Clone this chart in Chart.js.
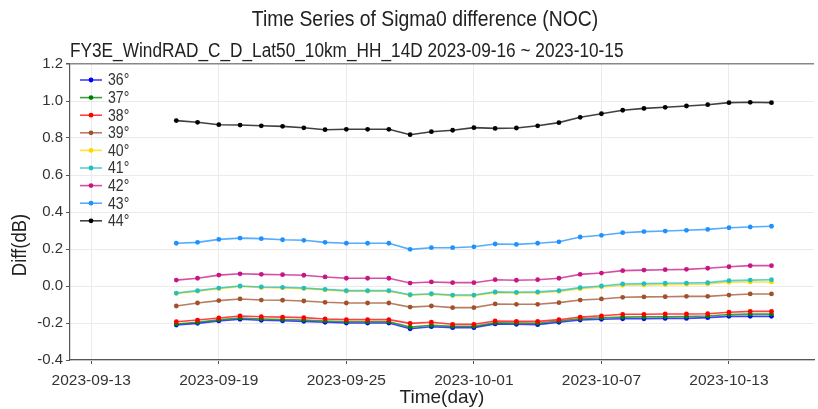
<!DOCTYPE html>
<html>
<head>
<meta charset="utf-8">
<script src="https://cdn.jsdelivr.net/npm/chart.js@4/dist/chart.umd.min.js"></script>
<style>
  html, body { margin: 0; padding: 0; background: #fff; }
  #wrap { width: 818px; height: 409px; }
</style>
</head>
<body>
<div id="wrap"><canvas id="chartSigma"></canvas></div>
<script>
// daily samples, one per day
var dates = ['2023-09-17', '2023-09-18', '2023-09-19', '2023-09-20', '2023-09-21', '2023-09-22', '2023-09-23',
    '2023-09-24', '2023-09-25', '2023-09-26', '2023-09-27', '2023-09-28', '2023-09-29', '2023-09-30',
    '2023-10-01', '2023-10-02', '2023-10-03', '2023-10-04', '2023-10-05', '2023-10-06', '2023-10-07',
    '2023-10-08', '2023-10-09', '2023-10-10', '2023-10-11', '2023-10-12', '2023-10-13', '2023-10-14',
    '2023-10-15'];

var xTicks = ['2023-09-13', '2023-09-19', '2023-09-25', '2023-10-01', '2023-10-07', '2023-10-13'];
var yTicks = [-0.4, -0.2, 0.0, 0.2, 0.4, 0.6, 0.8, 1.0, 1.2];

var angles = ['36°', '37°', '38°', '39°', '40°', '41°', '42°', '43°', '44°'];

var diff36 = [-0.211, -0.202, -0.189, -0.180, -0.185, -0.188, -0.191, -0.196, -0.200, -0.200, -0.200, -0.231, -0.220, -0.225,
    -0.225, -0.205, -0.207, -0.209, -0.196, -0.184, -0.180, -0.177, -0.177, -0.175, -0.175, -0.171, -0.164, -0.164, -0.164];
var diff37 = [-0.205, -0.196, -0.183, -0.173, -0.178, -0.181, -0.184, -0.189, -0.193, -0.193, -0.193, -0.222, -0.212, -0.218,
    -0.218, -0.199, -0.200, -0.201, -0.189, -0.177, -0.172, -0.168, -0.167, -0.166, -0.165, -0.162, -0.154, -0.152, -0.152];
var diff38 = [-0.193, -0.184, -0.173, -0.162, -0.166, -0.168, -0.171, -0.178, -0.182, -0.182, -0.182, -0.202, -0.196, -0.207,
    -0.207, -0.189, -0.191, -0.191, -0.182, -0.168, -0.161, -0.153, -0.153, -0.151, -0.151, -0.150, -0.142, -0.137, -0.137];
var diff39 = [-0.108, -0.092, -0.079, -0.070, -0.076, -0.077, -0.081, -0.088, -0.092, -0.092, -0.092, -0.114, -0.108, -0.117,
    -0.117, -0.097, -0.099, -0.099, -0.090, -0.076, -0.070, -0.061, -0.059, -0.058, -0.056, -0.056, -0.049, -0.043, -0.043];
var diff40 = [-0.041, -0.028, -0.014, -0.003, -0.008, -0.010, -0.014, -0.021, -0.028, -0.028, -0.028, -0.050, -0.045, -0.052,
    -0.052, -0.036, -0.038, -0.036, -0.029, -0.015, -0.005, 0.004, 0.005, 0.007, 0.009, 0.011, 0.020, 0.022, 0.022];
var diff41 = [-0.038, -0.025, -0.011, 0.000, -0.005, -0.007, -0.011, -0.018, -0.025, -0.025, -0.025, -0.047, -0.042, -0.049,
    -0.049, -0.032, -0.034, -0.032, -0.025, -0.009, 0.000, 0.011, 0.013, 0.015, 0.016, 0.018, 0.029, 0.032, 0.034];
var diff42 = [0.032, 0.042, 0.059, 0.066, 0.063, 0.061, 0.058, 0.049, 0.042, 0.042, 0.042, 0.016, 0.022, 0.018,
    0.018, 0.034, 0.031, 0.034, 0.042, 0.063, 0.070, 0.083, 0.086, 0.088, 0.090, 0.096, 0.104, 0.110, 0.110];
var diff43 = [0.231, 0.236, 0.252, 0.259, 0.256, 0.250, 0.247, 0.236, 0.231, 0.231, 0.231, 0.198, 0.207, 0.207,
    0.212, 0.227, 0.225, 0.231, 0.239, 0.265, 0.274, 0.288, 0.294, 0.297, 0.301, 0.306, 0.315, 0.319, 0.323];
var diff44 = [0.894, 0.885, 0.872, 0.870, 0.866, 0.863, 0.855, 0.845, 0.847, 0.847, 0.847, 0.818, 0.834, 0.842,
    0.856, 0.852, 0.854, 0.866, 0.883, 0.912, 0.931, 0.950, 0.960, 0.966, 0.973, 0.980, 0.991, 0.993, 0.991];

var series = [diff36, diff37, diff38, diff39, diff40, diff41, diff42, diff43, diff44];
var colors = ['#0000ff', '#008000', '#ff0000', '#a0522d', '#ffd700', '#20c0c0', '#c71585', '#1e90ff', '#000000'];

var mainTitle = 'Time Series of Sigma0 difference (NOC)';
var subTitle = 'FY3E_WindRAD_C_D_Lat50_10km_HH_14D 2023-09-16 ~ 2023-10-15';

var FONT = "'Liberation Sans', 'DejaVu Sans', sans-serif";

function dayNum(s) {
    return Date.parse(s) / 86400000;
}

function fade(hex, a) {
    var n = parseInt(hex.slice(1), 16);
    return 'rgba(' + (n >> 16) + ',' + ((n >> 8) & 255) + ',' + (n & 255) + ',' + a + ')';
}

var datasets = series.map(function (vals, i) {
    return {
        label: angles[i],
        data: vals.map(function (v, j) { return { x: dayNum(dates[j]), y: v }; }),
        borderColor: fade(colors[i], 0.75),
        backgroundColor: colors[i],
        pointBackgroundColor: colors[i],
        pointBorderWidth: 0,
        pointRadius: 2.4,
        borderWidth: 1.6,
        tension: 0,
        order: series.length - i
    };
});

// text drawn a little condensed, like the narrow face used for the labels
function narrowText(ctx, text, x, y, size, align) {
    ctx.save();
    ctx.font = size + 'px ' + FONT;
    ctx.textAlign = align;
    ctx.translate(x, y);
    ctx.scale(0.88, 1);
    ctx.fillText(text, 0, 0);
    ctx.restore();
}

// titles, rotated y label and the legend inside the plot
var decorations = {
    id: 'decorations',
    afterDraw: function (chart) {
        var ctx = chart.ctx, area = chart.chartArea;
        ctx.save();
        ctx.fillStyle = '#222';
        ctx.textBaseline = 'middle';

        narrowText(ctx, mainTitle, 425, 20, 22, 'center');
        narrowText(ctx, subTitle, area.left, 52, 19.6, 'left');

        ctx.save();
        ctx.translate(20, 245);
        ctx.rotate(-Math.PI / 2);
        narrowText(ctx, 'Diff(dB)', 0, 0, 21, 'center');
        ctx.restore();

        for (var i = 0; i < angles.length; i++) {
            var y = area.top + 16 + i * 17.6;
            var x0 = area.left + 10;
            ctx.strokeStyle = fade(colors[i], 0.75);
            ctx.lineWidth = 1.6;
            ctx.beginPath();
            ctx.moveTo(x0, y);
            ctx.lineTo(x0 + 22, y);
            ctx.stroke();
            ctx.fillStyle = colors[i];
            ctx.beginPath();
            ctx.arc(x0 + 11, y, 2.4, 0, Math.PI * 2);
            ctx.fill();
            ctx.fillStyle = '#333';
            narrowText(ctx, angles[i], x0 + 28, y + 1, 16, 'left');
        }
        ctx.restore();
    }
};

var sigma = document.getElementById('chartSigma').getContext('2d');
var chart = new Chart(sigma, {
    type: 'line',
    data: { datasets: datasets },
    options: {
        responsive: true,
        maintainAspectRatio: false,
        animation: false,
        layout: { padding: { top: 64, right: -6, bottom: 0, left: 0 } },
        plugins: {
            legend: { display: false },
            tooltip: { enabled: false }
        },
        scales: {
            x: {
                type: 'linear',
                min: dayNum('2023-09-12'),
                max: dayNum('2023-10-17'),
                afterFit: function (scale) { scale.height = 49; },
                afterBuildTicks: function (scale) {
                    scale.ticks = xTicks.map(function (d) { return { value: dayNum(d) }; });
                },
                ticks: {
                    autoSkip: false,
                    maxRotation: 0,
                    padding: 7,
                    color: '#333',
                    font: { family: FONT, size: 15.5 },
                    callback: function (v, i) { return xTicks[i]; }
                },
                grid: { color: '#ebebeb', tickColor: '#555', tickLength: 4 },
                border: { color: '#555', width: 1.2 },
                title: {
                    display: true,
                    text: 'Time(day)',
                    color: '#222',
                    font: { family: FONT, size: 19 },
                    padding: { top: 0, bottom: 0 }
                }
            },
            y: {
                min: -0.4,
                max: 1.2,
                afterFit: function (scale) { scale.width = 70; },
                afterBuildTicks: function (scale) {
                    scale.ticks = yTicks.map(function (v) { return { value: v }; });
                },
                ticks: {
                    padding: 3,
                    color: '#333',
                    font: { family: FONT, size: 15 },
                    callback: function (v) { return (Math.round(v * 10) / 10).toFixed(1); }
                },
                grid: {
                    color: function (c) { return c.tick && c.tick.value === 1.2 ? '#888' : '#ebebeb'; },
                    lineWidth: function (c) { return c.tick && c.tick.value === 1.2 ? 1.5 : 1; },
                    tickColor: '#555',
                    tickLength: 4
                },
                border: { color: '#555', width: 1.2 }
            }
        }
    },
    plugins: [decorations]
});
</script>
</body>
</html>
